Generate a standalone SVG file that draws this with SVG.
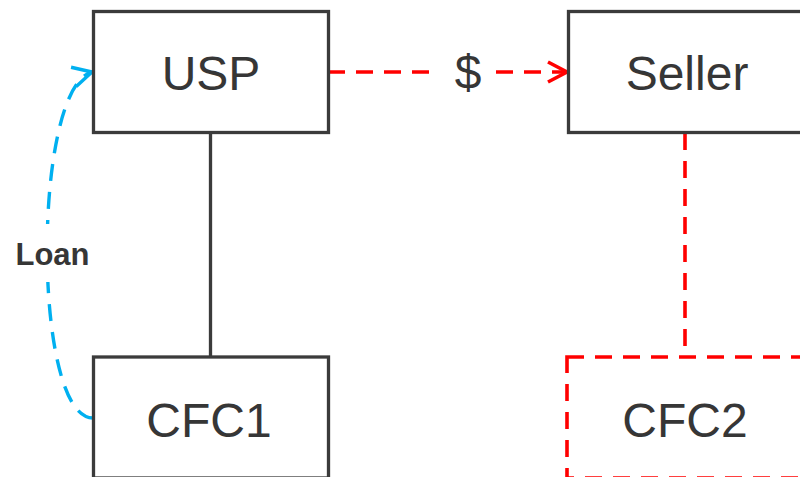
<svg xmlns="http://www.w3.org/2000/svg" width="800" height="477" viewBox="0 0 800 477">
<style>
.box{fill:#ffffff;stroke:#3b3b3b;stroke-width:3.3}
.dbox{fill:#ffffff;stroke:#ff0000;stroke-width:3.6;stroke-dasharray:17 11}
.lbl{font-family:"Liberation Sans",Arial,sans-serif;font-size:48px;fill:#363636;text-anchor:middle}
.small{font-family:"Liberation Sans",Arial,sans-serif;font-size:31px;font-weight:bold;fill:#363636;text-anchor:middle}
.red{fill:none;stroke:#ff0000;stroke-width:3.6;stroke-dasharray:17 11}
.blue{fill:none;stroke:#00b0f0;stroke-width:3.4;stroke-dasharray:17 11}
</style>
<defs>
<marker id="arrRed" markerUnits="userSpaceOnUse" markerWidth="30" markerHeight="30" refX="0" refY="0" viewBox="-25 -15 30 30" orient="auto" overflow="visible">
<path d="M-19,-10 L0,0 L-19,10" fill="none" stroke="#ff0000" stroke-width="3.6"/>
</marker>
<marker id="arrBlue" markerUnits="userSpaceOnUse" markerWidth="30" markerHeight="30" refX="0" refY="0" viewBox="-25 -15 30 30" orient="auto" overflow="visible">
<path d="M-19,-10 L0,0 L-19,10" fill="none" stroke="#00b0f0" stroke-width="3.4"/>
</marker>
</defs>
<rect width="800" height="477" fill="#ffffff"/>
<g id="connectors">
<line x1="210.5" y1="132.5" x2="210.5" y2="357" stroke="#3b3b3b" stroke-width="3.3"/>
<line class="red" x1="685" y1="133" x2="685" y2="357"/>
<line class="red" x1="328" y1="72" x2="567" y2="72" marker-end="url(#arrRed)"/>
<rect x="431" y="50" width="64" height="44" fill="#ffffff"/>
<text class="lbl" x="468" y="89">$</text>
<path class="blue" d="M93,418 C32,418 32,88 92,72" marker-end="url(#arrBlue)"/>
<rect x="10" y="224" width="85" height="58" fill="#ffffff"/>
<text class="small" x="52.5" y="265">Loan</text>
</g>
<g id="usp">
<rect class="box" x="93.5" y="11.5" width="235" height="121"/>
<text class="lbl" x="211" y="90">USP</text>
</g>
<g id="seller">
<rect class="box" x="568.5" y="11.5" width="235" height="121"/>
<text class="lbl" x="687" y="90">Seller</text>
</g>
<g id="cfc1">
<rect class="box" x="93.5" y="357" width="235" height="121"/>
<text class="lbl" x="209" y="437">CFC1</text>
</g>
<g id="cfc2">
<rect class="dbox" x="567" y="357" width="237" height="121"/>
<text class="lbl" x="685" y="437">CFC2</text>
</g>
</svg>
